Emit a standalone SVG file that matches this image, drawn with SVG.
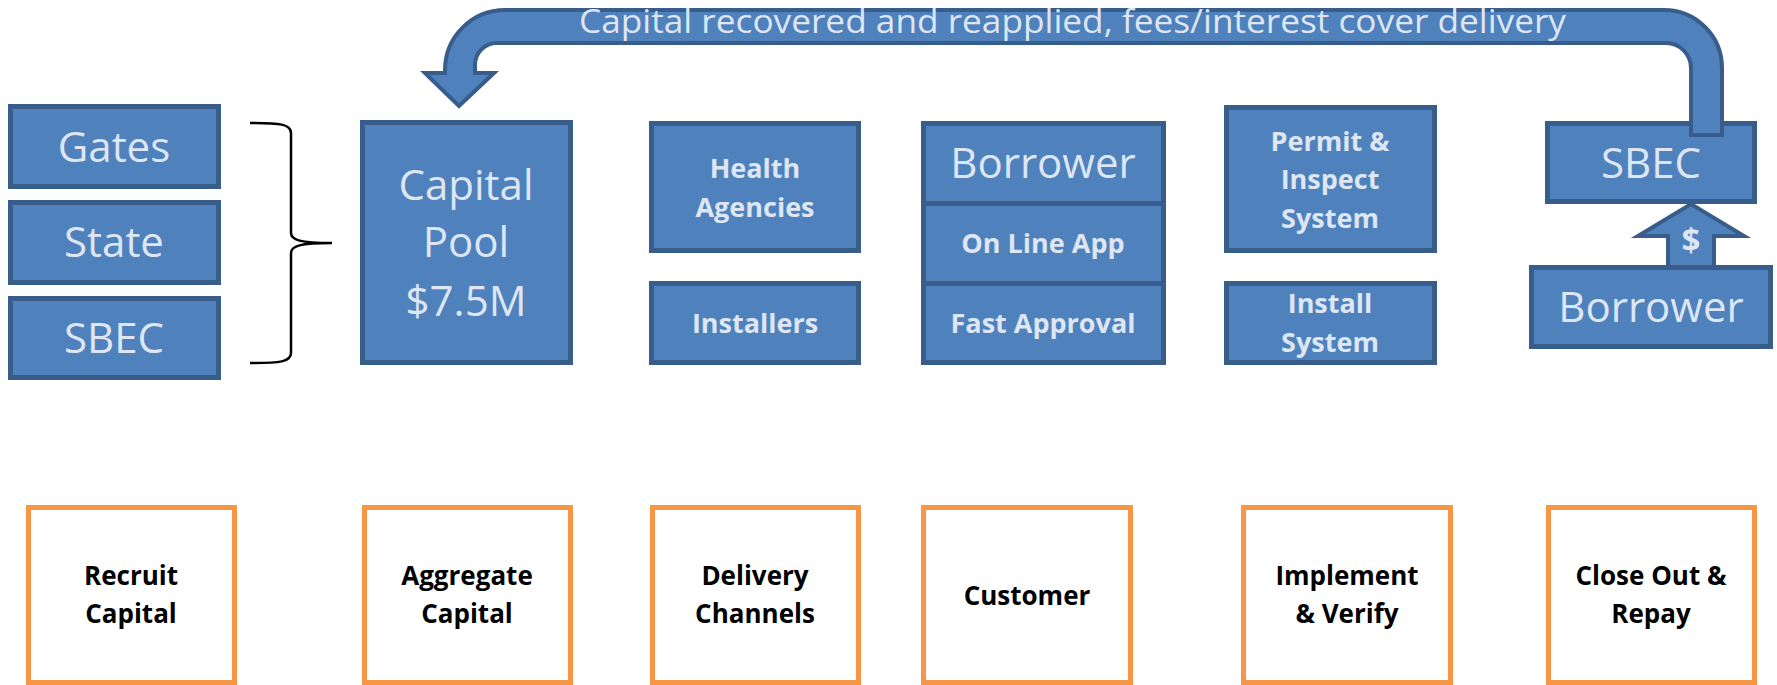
<svg xmlns="http://www.w3.org/2000/svg" width="1777" height="685" viewBox="0 0 1777 685">
  <style>
    .box { fill: #4f81bd; stroke: #385d8a; stroke-width: 5; }
    .stage { fill: #ffffff; stroke: #f79646; stroke-width: 5; }
    .arrow { fill: #4f81bd; stroke: #385d8a; stroke-width: 4; stroke-linejoin: miter; }
    .light { font-family: "Open Sans", "Noto Sans", sans-serif; font-size: 42px; fill: #dde6f2; text-anchor: middle; }
    .bold { font-family: "Open Sans", "Noto Sans", sans-serif; font-weight: bold; font-size: 27px; fill: #dde6f2; text-anchor: middle; }
    .label { font-family: "Open Sans", "Noto Sans", sans-serif; font-weight: bold; font-size: 26px; fill: #000000; text-anchor: middle; }
    .banner { font-family: "Open Sans", "Noto Sans", sans-serif; font-size: 33px; fill: #dde6f2; }
    .brace { fill: none; stroke: #000000; stroke-width: 2.5; }
  </style>

  <rect width="1777" height="685" fill="#ffffff"/>

  <!-- Capital sources -->
  <g id="gates">
    <rect class="box" x="10.5" y="106.5" width="208" height="80"/>
    <text class="light" x="114" y="162">Gates</text>
  </g>
  <g id="state">
    <rect class="box" x="10.5" y="202.5" width="208" height="80"/>
    <text class="light" x="114" y="257">State</text>
  </g>
  <g id="sbec-source">
    <rect class="box" x="10.5" y="298.5" width="208" height="79"/>
    <text class="light" x="114" y="353">SBEC</text>
  </g>

  <!-- Capital pool -->
  <g id="capital-pool">
    <rect class="box" x="362.5" y="122.5" width="208" height="240"/>
    <text class="light" x="466" y="200">Capital</text>
    <text class="light" x="466" y="257">Pool</text>
    <text class="light" x="466" y="316">$7.5M</text>
  </g>

  <!-- Delivery channels -->
  <g id="health-agencies">
    <rect class="box" x="651.5" y="123.5" width="207" height="127"/>
    <text class="bold" x="755" y="178">Health</text>
    <text class="bold" x="755" y="217">Agencies</text>
  </g>
  <g id="installers">
    <rect class="box" x="651.5" y="283.5" width="207" height="79"/>
    <text class="bold" x="755" y="333">Installers</text>
  </g>

  <!-- Customer stack -->
  <g id="borrower">
    <rect class="box" x="923.5" y="123.5" width="240" height="80"/>
    <text class="light" x="1043" y="178">Borrower</text>
  </g>
  <g id="online-app">
    <rect class="box" x="923.5" y="203.5" width="240" height="80"/>
    <text class="bold" x="1043" y="253">On Line App</text>
  </g>
  <g id="fast-approval">
    <rect class="box" x="923.5" y="283.5" width="240" height="79"/>
    <text class="bold" x="1043" y="333">Fast Approval</text>
  </g>

  <!-- Implementation -->
  <g id="permit-inspect">
    <rect class="box" x="1226.5" y="107.5" width="208" height="143"/>
    <text class="bold" x="1330" y="151">Permit &amp;</text>
    <text class="bold" x="1330" y="189">Inspect</text>
    <text class="bold" x="1330" y="228">System</text>
  </g>
  <g id="install-system">
    <rect class="box" x="1226.5" y="283.5" width="208" height="79"/>
    <text class="bold" x="1330" y="313">Install</text>
    <text class="bold" x="1330" y="352">System</text>
  </g>

  <!-- Close out -->
  <g id="sbec-lender">
    <rect class="box" x="1547.5" y="123.5" width="207" height="78"/>
    <text class="light" x="1651" y="178">SBEC</text>
  </g>
  <g id="borrower-repay">
    <rect class="box" x="1531.5" y="267.5" width="239" height="79"/>
    <text class="light" x="1651" y="322">Borrower</text>
  </g>

  <!-- Connectors -->
  <g id="connectors">
    <path class="brace" d="M 250 123 C 280 123 291 124 291 133 L 291 233 C 291 240 300 243 332 243 C 300 243 291 246 291 253 L 291 353 C 291 362 280 363 250 363"/>
    <path id="return-arrow" class="arrow" d="M 1691 135 L 1722 135 L 1722 68 A 58 58 0 0 0 1664 10 L 505 10 A 60 60 0 0 0 445 70 L 445 73 L 425 73 L 459 106 L 494 73 L 475 73 L 475 65 A 22 22 0 0 1 497 43 L 1666 43 A 25 25 0 0 1 1691 68 Z"/>
    <text class="banner" x="579" y="33" textLength="987" lengthAdjust="spacingAndGlyphs">Capital recovered and reapplied, fees/interest cover delivery</text>
    <path id="repay-arrow" class="arrow" d="M 1668 267 L 1668 236 L 1638 236 L 1691 204 L 1744 236 L 1714 236 L 1714 267 Z"/>
    <text class="bold" x="1691" y="252" style="font-size:33px">$</text>
  </g>

  <!-- Process stages -->
  <g id="stage-recruit">
    <rect class="stage" x="28.5" y="507.5" width="206" height="175"/>
    <text class="label" x="131" y="585">Recruit</text>
    <text class="label" x="131" y="623">Capital</text>
  </g>
  <g id="stage-aggregate">
    <rect class="stage" x="364.5" y="507.5" width="206" height="175"/>
    <text class="label" x="467" y="585">Aggregate</text>
    <text class="label" x="467" y="623">Capital</text>
  </g>
  <g id="stage-delivery">
    <rect class="stage" x="652.5" y="507.5" width="206" height="175"/>
    <text class="label" x="755" y="585">Delivery</text>
    <text class="label" x="755" y="623">Channels</text>
  </g>
  <g id="stage-customer">
    <rect class="stage" x="923.5" y="507.5" width="207" height="175"/>
    <text class="label" x="1027" y="605">Customer</text>
  </g>
  <g id="stage-implement">
    <rect class="stage" x="1243.5" y="507.5" width="207" height="175"/>
    <text class="label" x="1347" y="585">Implement</text>
    <text class="label" x="1347" y="623">&amp; Verify</text>
  </g>
  <g id="stage-close">
    <rect class="stage" x="1548.5" y="507.5" width="206" height="175"/>
    <text class="label" x="1651" y="585">Close Out &amp;</text>
    <text class="label" x="1651" y="623">Repay</text>
  </g>
</svg>
